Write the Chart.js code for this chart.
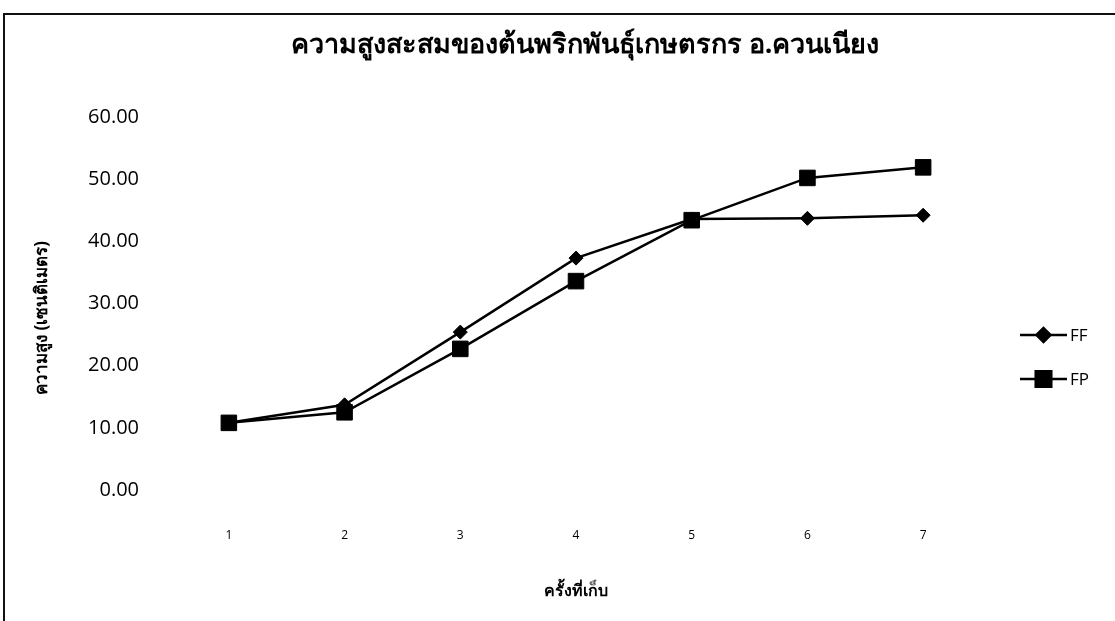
<!DOCTYPE html>
<html>
<head>
<meta charset="utf-8">
<script src="https://cdn.jsdelivr.net/npm/chart.js@4/dist/chart.umd.min.js"></script>
<style>
html,body{margin:0;padding:0;background:#fff;}
#wrap{position:relative;width:1115px;height:621px;}
</style>
</head>
<body>
<div id="wrap"><canvas id="c" width="1115" height="621"></canvas></div>
<script>
const categories = ['1','2','3','4','5','6','7'];
const seriesFF = [10.8, 13.7, 25.4, 37.3, 43.6, 43.7, 44.2];
const seriesFP = [10.8, 12.5, 22.7, 33.6, 43.4, 50.2, 51.9];
const yTicks = [0, 10, 20, 30, 40, 50, 60];
const titleText = 'ความสูงสะสมของต้นพริกพันธุ์เกษตรกร อ.ควนเนียง';
const yTitle = 'ความสูง (เซนติเมตร)';
const xTitle = 'ครั้งที่เก็บ';

const FONT = "'Open Sans', 'Noto Sans', 'DejaVu Sans', sans-serif";

const framePlugin = {
  id: 'frame',
  beforeDraw(chart) {
    const ctx = chart.ctx;
    ctx.save();
    ctx.fillStyle = '#fff';
    ctx.fillRect(0, 0, chart.width, chart.height);
    ctx.strokeStyle = '#111';
    ctx.lineWidth = 2;
    ctx.strokeRect(4, 14, 1300, 1000);
    ctx.restore();
  },
  afterDraw(chart) {
    const ctx = chart.ctx;
    ctx.save();
    ctx.fillStyle = '#000';
    ctx.textAlign = 'center';
    ctx.textBaseline = 'middle';
    ctx.font = "bold 27px " + FONT;
    ctx.fillText(titleText, 585, 45);
    ctx.translate(42, 318);
    ctx.rotate(-Math.PI / 2);
    ctx.font = "bold 17px " + FONT;
    ctx.fillText(yTitle, 0, 0);
    ctx.restore();
  }
};

const legendPlugin = {
  id: 'sideLegend',
  afterDraw(chart) {
    const ctx = chart.ctx;
    const x0 = 1020, x1 = 1067, ys = [335, 379];
    chart.data.datasets.forEach((ds, i) => {
      const y = ys[i];
      ctx.save();
      ctx.strokeStyle = ds.borderColor;
      ctx.lineWidth = 2.5;
      ctx.beginPath(); ctx.moveTo(x0, y); ctx.lineTo(x1, y); ctx.stroke();
      ctx.fillStyle = '#000';
      Chart.helpers.drawPoint(ctx, {pointStyle: ds.pointStyle, radius: ds.pointRadius, borderWidth: 1}, (x0 + x1) / 2, y);
      ctx.font = "17px " + FONT;
      ctx.textBaseline = 'middle';
      ctx.textAlign = 'left';
      ctx.fillText(ds.label, x1 + 3, y + 1);
      ctx.restore();
    });
  }
};

new Chart(document.getElementById('c'), {
  type: 'line',
  data: {
    labels: categories,
    datasets: [
      {label: 'FF', data: seriesFF, borderColor: '#000', backgroundColor: '#000', borderWidth: 2.5,
       pointStyle: 'rectRot', pointRadius: 7, pointBorderWidth: 1, tension: 0},
      {label: 'FP', data: seriesFP, borderColor: '#000', backgroundColor: '#000', borderWidth: 2.5,
       pointStyle: 'rect', pointRadius: 11, pointBorderWidth: 1, tension: 0}
    ]
  },
  options: {
    responsive: false,
    animation: false,
    layout: {padding: {left: 20, right: 134, top: 117, bottom: 20}},
    plugins: {
      legend: {display: false},
      tooltip: {enabled: false},
      title: {display: false}
    },
    scales: {
      x: {
        offset: true,
        grid: {display: false},
        border: {display: false},
        ticks: {color: '#000', font: {family: FONT, size: 12}, padding: 30},
        title: {display: true, text: xTitle, color: '#000', font: {family: FONT, size: 16, weight: 'bold'}, padding: {top: 14, bottom: 0}},
        afterFit(s) { s.height = 621 - 490 - 20; }
      },
      y: {
        min: 0, max: 60,
        grid: {display: false},
        border: {display: false},
        afterBuildTicks(s) { s.ticks = yTicks.map(v => ({value: v})); },
        ticks: {color: '#000', font: {family: FONT, size: 20}, padding: 24,
                callback: v => Number(v).toFixed(2)},
        title: {display: false},
        afterFit(s) { s.width = 171 - 20; }
      }
    }
  },
  plugins: [framePlugin, legendPlugin]
});
</script>
</body>
</html>
